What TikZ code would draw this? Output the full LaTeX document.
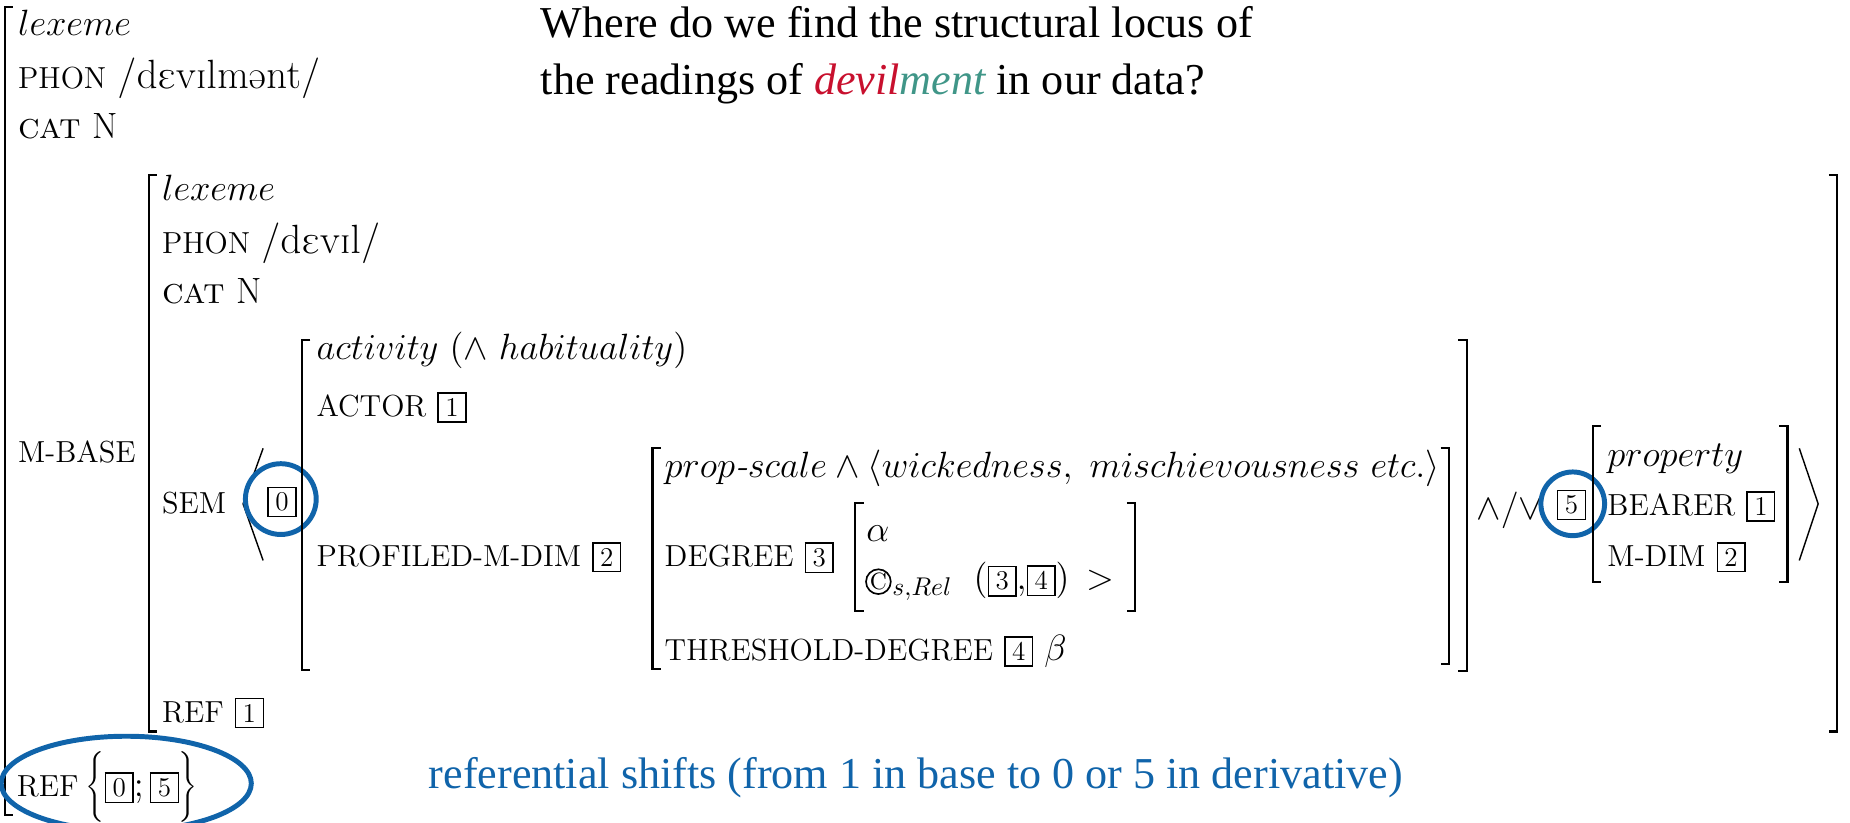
\RequirePackage{fix-cm}
\documentclass[tikz,border=0pt]{standalone}
\usepackage{fontspec}
\usepackage{tipa}
\newfontfamily\titlefont{Liberation Serif}
\definecolor{devred}{RGB}{200,16,46}
\definecolor{mentteal}{RGB}{64,150,136}
\definecolor{refblue}{RGB}{16,100,170}
\newcommand{\lab}[1]{{\fontsize{12.9}{14}\selectfont #1}}
\newcommand{\ipa}[1]{{\fontsize{17.28}{19}\selectfont\textipa{#1}}}
\newcommand{\tg}[1]{{\setlength{\fboxsep}{2pt}\setlength{\fboxrule}{0.6pt}\fbox{\fontsize{11.5}{12}\selectfont\makebox[0.62em]{#1}}}}
\tikzset{
  txt/.style={anchor=base west, inner sep=0pt, font=\fontsize{15.5}{18}\selectfont},
  brk/.style={line width=0.9pt},
  ang/.style={line width=0.6pt},
  blu/.style={draw=refblue, line width=2.1pt},
  ttl/.style={anchor=base west, inner sep=0pt, font=\titlefont\fontsize{18.7}{22}\selectfont}
}
\newcommand{\lbr}[3]{\draw[brk] (#1+7,#2) -- (#1,#2) -- (#1,#3) -- (#1+7,#3);}
\newcommand{\rbr}[3]{\draw[brk] (#1-7,#2) -- (#1,#2) -- (#1,#3) -- (#1-7,#3);}
\begin{document}
\begin{tikzpicture}[x=0.5pt,y=-0.5pt]
\useasboundingbox (0,0) rectangle (1568,697);
% title
\node[ttl] (t1) at (458,32) {Where do we find the structural locus of};
\node[ttl] (t2) at (458,80) {the readings of \textcolor{devred}{\itshape devil}\textcolor{mentteal}{\itshape ment} in our data?};
% outer AVM
\lbr{4}{6}{691}
\node[txt] (lex1) at (15,30) {$lexeme$};
\node[txt] (phon1) at (15,75) {\lab{PHON} \ipa{/dEvIlm@nt/}};
\node[txt] (cat1) at (15,117) {\textsc{cat} N};
\node[txt] (mbase) at (15,392) {\lab{M-BASE}};
\node[txt] (ref0) at (14,675) {\lab{REF}\hspace{3pt}$\Biggl\{\tg{0};\tg{5}\Biggr\}$};
% M-BASE AVM
\lbr{126}{148}{620}
\rbr{1557}{148}{620}
\node[txt] (lex2) at (137,170) {$lexeme$};
\node[txt] (phon2) at (137,215) {\lab{PHON} \ipa{/dEvIl/}};
\node[txt] (cat2) at (137,257) {\textsc{cat} N};
\node[txt] (sem) at (137,435) {\lab{SEM}};
\node[txt] (ref2) at (137,612) {\lab{REF} \tg{1}};
% SEM list
\draw[ang] (223,380) -- (206,427) -- (223,475);
\node[inner sep=0pt] (b0) at (239,425.5) {\tg{0}};
\draw[blu] (238,423) circle[radius=30];
% activity AVM
\lbr{256}{288}{568}
\rbr{1243}{288}{569}
\node[txt] (act) at (268,305) {$activity\ (\wedge\ habituality)$};
\node[txt] (actor) at (268,353) {\lab{ACTOR} \tg{1}};
\node[txt] (prof) at (268,480) {\lab{PROFILED-M-DIM} \tg{2}};
% prop-scale AVM
\lbr{553}{380}{567}
\rbr{1228}{380}{563}
\node[txt] (prop) at (563,405) {$prop\textit{-}scale \wedge \langle wickedness,\ mischievousness\ etc.\rangle$};
\node[txt] (deg) at (563,480) {\lab{DEGREE} \tg{3}};
\node[txt] (thr) at (563,560) {\lab{THRESHOLD-DEGREE} \tg{4} $\beta$};
% degree AVM
\lbr{725}{426}{518}
\rbr{962}{426}{518}
\node[txt] (alpha) at (734,459) {$\alpha$};
\draw[line width=0.7pt] (744.5,493) circle[radius=10.5];
\node[inner sep=0pt, font=\fontsize{10}{10}\selectfont] (cC) at (744.5,493) {C};
\node[txt] (comp) at (734,500) {\hspace{11pt}$_{s,Rel}$\hspace{9pt}$(\tg{3}{,}\tg{4})$\hspace{7pt}$>$};
% conjunction / disjunction
\node[txt] (andor) at (1251,440) {$\wedge/\vee$};
\node[inner sep=0pt] (b5) at (1332,428) {\tg{5}};
\draw[blu] (1333,427) circle[radius=27];
% property AVM
\lbr{1350}{361}{493}
\rbr{1515}{361}{493}
\node[txt] (pty) at (1362,395) {$property$};
\node[txt] (bear) at (1362,437) {\lab{BEARER} \tg{1}};
\node[txt] (mdim) at (1362,480) {\lab{M-DIM} \tg{2}};
\draw[ang] (1525,380) -- (1541,427) -- (1525,475);
% referential shift
\draw[blu] (107,664) ellipse[x radius=106, y radius=40];
\node[ttl, text=refblue] (shift) at (363,668) {referential shifts (from 1 in base to 0 or 5 in derivative)};
\end{tikzpicture}
\end{document}
